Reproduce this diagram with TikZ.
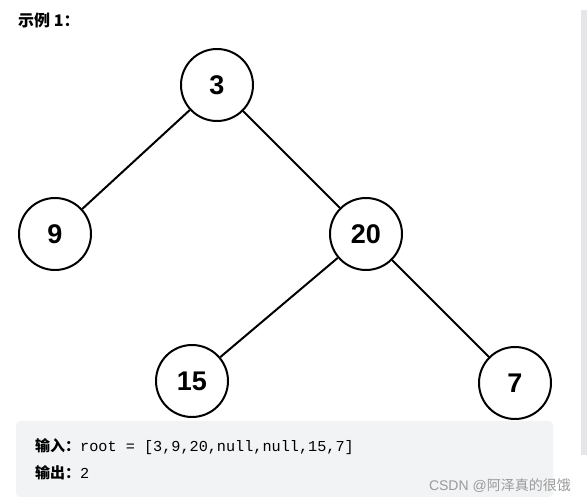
\documentclass[tikz,border=0pt]{standalone}
\usepackage{fontspec}
\setmainfont{Liberation Sans}
\setmonofont{Liberation Mono}
\newfontfamily\cjk{Noto Sans CJK SC}
\definecolor{boxgray}{HTML}{F2F3F5}
\definecolor{bargray}{HTML}{E6E6EA}
\definecolor{markgray}{HTML}{9A9A9A}
\tikzset{
  treenode/.style={circle, draw, line width=2pt, minimum size=72pt, inner sep=0pt, font=\bfseries\fontsize{27}{30}\selectfont},
  edge/.style={line width=2pt},
}
\begin{document}
\begin{tikzpicture}[x=1pt,y=-1pt]
    \useasboundingbox (0,0) rectangle (587,502);
    % Title
    \node[anchor=west, font=\cjk\bfseries\fontsize{16}{18}\selectfont, inner sep=0pt] (title) at (18,20) {示例 1：};
    % Tree nodes
    \node[treenode] (n3) at (217,85) {3};
    \node[treenode] (n9) at (55,234) {9};
    \node[treenode] (n20) at (366,234) {20};
    \node[treenode] (n15) at (192,381) {15};
    \node[treenode] (n7) at (515,383) {7};
    % Edges
    \draw[edge] (n3) -- (n9);
    \draw[edge] (n3) -- (n20);
    \draw[edge] (n20) -- (n15);
    \draw[edge] (n20) -- (n7);
    % Scroll bar
    \fill[bargray] (581,10) rectangle (587,455);
    % Example box
    \fill[boxgray, rounded corners=4pt] (16,421) rectangle (553,497);
    \node[anchor=west, inner sep=0pt, font=\fontsize{15}{17}\selectfont] (input) at (35,447) {{\cjk\bfseries 输入：}{\fontsize{15.2}{17}\selectfont\texttt{root = [3,9,20,null,null,15,7]}}};
    \node[anchor=west, inner sep=0pt, font=\fontsize{15}{17}\selectfont] (output) at (35,473) {{\cjk\bfseries 输出：}{\fontsize{15.2}{17}\selectfont\texttt{2}}};
    % Watermark
    \node[anchor=east, inner sep=0pt, text=markgray, font=\fontsize{14}{16}\selectfont] (mark) at (571,486) {CSDN @{\cjk 阿泽真的很饿}};
\end{tikzpicture}
\end{document}
